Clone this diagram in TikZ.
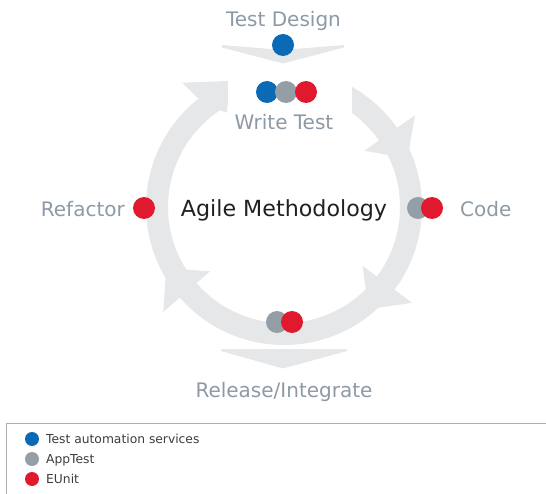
\documentclass[tikz,border=0pt]{standalone}
\usepackage{fontspec}
\setmainfont{DejaVu Sans}
\usetikzlibrary{calc}
\definecolor{ringc}{HTML}{E6E7E9}
\definecolor{blueC}{HTML}{0A6AB6}
\definecolor{grayC}{HTML}{949EA7}
\definecolor{redC}{HTML}{E0192F}
\definecolor{labelC}{HTML}{8D9AA5}
\definecolor{darkC}{HTML}{231F20}
\definecolor{legLine}{HTML}{A7AEB4}
\definecolor{legText}{HTML}{3C3C3C}
\begin{document}
\begin{tikzpicture}[x=1pt,y=-1pt,
  dotnode/.style={circle,inner sep=0pt,minimum size=22pt},
  legdot/.style={circle,inner sep=0pt,minimum size=14pt},
  steplabel/.style={text=labelC,font=\fontsize{20}{24}\selectfont,inner sep=0pt,anchor=base},
  centrelabel/.style={text=darkC,font=\fontsize{22.2}{26}\selectfont,inner sep=0pt,anchor=base},
  legtext/.style={text=legText,font=\fontsize{12.3}{15}\selectfont,inner sep=0pt,anchor=base west}]
\useasboundingbox (0,0) rectangle (546,494);
\coordinate (C) at (284,207);
% ring
\fill[ringc,even odd rule] (C) circle[radius=138pt] (C) circle[radius=116pt];
\foreach \t in {35,-36.8,-139}{
  \fill[ringc] ($(C)+(\t:160pt)$) -- ($(C)+(\t:129pt)+(\t-90:31pt)$) -- ($(C)+(\t:98pt)$) -- cycle;
}
\fill[ringc] (196.7,97) -- (182.3,82.7) -- (227.3,81) -- (227.3,112.7) -- (216.7,109.3) -- cycle;
\fill[white] (227.5,64) rectangle (352,136);
% chevrons
\fill[ringc] (222,45) -- (283,50) -- (344,45) -- (344,47.5) -- (283,63.5) -- (222,47.5) -- cycle;
\fill[ringc] (221,349) -- (347,349) -- (347,351) -- (283,368.5) -- (221,351) -- cycle;
% dots
\node[dotnode,fill=blueC] (td) at (283,45) {};
\node[dotnode,fill=blueC] (wt1) at (267,92) {};
\node[dotnode,fill=grayC] (wt2) at (286,92) {};
\node[dotnode,fill=redC] (wt3) at (306,92) {};
\node[dotnode,fill=grayC] (cd1) at (418,208) {};
\node[dotnode,fill=redC] (cd2) at (432,208) {};
\node[dotnode,fill=grayC] (ri1) at (277,322) {};
\node[dotnode,fill=redC] (ri2) at (292,322) {};
\node[dotnode,fill=redC] (rf) at (144,208) {};
% labels
\node[steplabel] (ltd) at (283.5,27) {Test Design};
\node[steplabel] (lwt) at (284,130) {Write Test};
\node[steplabel,anchor=base west] (lcd) at (460,216.5) {Code};
\node[steplabel,anchor=base east] (lrf) at (125,216.5) {Refactor};
\node[steplabel] (lri) at (284,397) {Release/Integrate};
\node[centrelabel] (lam) at (284,217) {Agile Methodology};
% legend
\draw[legLine,line width=1pt] (6,494) -- (6,423) -- (546,423);
\node[legdot,fill=blueC] (lg1) at (32,439) {};
\node[legdot,fill=grayC] (lg2) at (32,459) {};
\node[legdot,fill=redC] (lg3) at (32,479) {};
\node[legtext] (lt1) at (46,443.5) {Test automation services};
\node[legtext] (lt2) at (46,463.5) {AppTest};
\node[legtext] (lt3) at (46,483.5) {EUnit};
\end{tikzpicture}
\end{document}
